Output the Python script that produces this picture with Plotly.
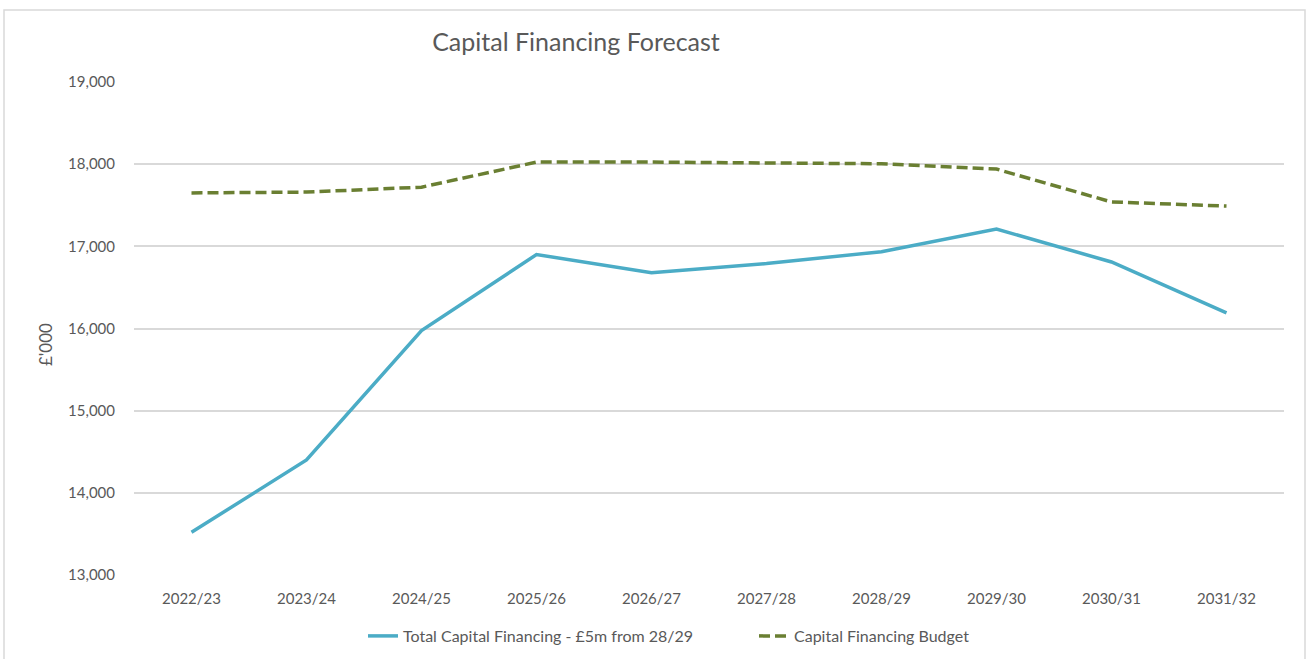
import plotly.graph_objects as go

categories = ["2022/23", "2023/24", "2024/25", "2025/26", "2026/27",
              "2027/28", "2028/29", "2029/30", "2030/31", "2031/32"]
total_financing = [13520, 14400, 15975, 16900, 16680, 16790, 16935, 17210, 16810, 16190]
budget = [17650, 17660, 17720, 18025, 18025, 18015, 18005, 17940, 17540, 17490]
y_ticks = [13000, 14000, 15000, 16000, 17000, 18000, 19000]

FONT = "Lato, 'Open Sans', sans-serif"
GREY = "#595959"

fig = go.Figure()
fig.add_trace(go.Scatter(
    x=categories, y=total_financing, mode="lines",
    name="Total Capital Financing - £5m from 28/29",
    line=dict(color="#4BACC6", width=3.5),
))
fig.add_trace(go.Scatter(
    x=categories, y=budget, mode="lines",
    name="Capital Financing Budget",
    line=dict(color="#6A7F32", width=3.5, dash="11px,5px"),
))

fig.update_layout(
    width=1310, height=659,
    paper_bgcolor="white", plot_bgcolor="white",
    margin=dict(l=134, r=26, t=82, b=84, autoexpand=False),
    font=dict(family=FONT, color=GREY, size=15),
    title=dict(text="Capital Financing Forecast", x=576/1310, xanchor="center",
               y=1 - 42/659, yanchor="middle",
               font=dict(size=25, color=GREY, family=FONT)),
    showlegend=True,
    legend=dict(orientation="h", x=(363 - 134) / 1150, xanchor="left",
                yref="container", y=1 - 636/659, yanchor="middle",
                font=dict(size=16, color=GREY),
                entrywidth=346, entrywidthmode="pixels",
                tracegroupgap=0),
    xaxis=dict(type="category", showgrid=False, ticks="", showline=False,
               tickfont=dict(size=15, color=GREY), range=[-0.5, 9.5],
               automargin=False, ticklabelstandoff=13),
    yaxis=dict(range=[13000, 19000], tickvals=y_ticks, tickformat=",d",
               showgrid=True, gridcolor="#D9D9D9", gridwidth=1.5,
               zeroline=False, showline=False, ticks="",
               tickfont=dict(size=15, color=GREY), automargin=False,
               ticklabelstandoff=18),
    annotations=[dict(text="£'000", xref="paper", yref="paper",
                      x=(45 - 134) / 1150, y=(575 - 345) / 493,
                      xanchor="center", yanchor="middle", textangle=-90,
                      showarrow=False, font=dict(size=17, color=GREY))],
)

fig.add_shape(type="rect", xref="paper", yref="paper",
              x0=(4 - 134) / 1150, x1=(1305 - 134) / 1150,
              y0=(575 - 700) / 493, y1=(575 - 10) / 493,
              line=dict(color="#D9D9D9", width=1.5), fillcolor="rgba(0,0,0,0)",
              layer="below")

fig.write_html("out.html", config={"displayModeBar": False},
               post_script="document.body.style.margin='0';document.body.style.overflow='hidden';")
